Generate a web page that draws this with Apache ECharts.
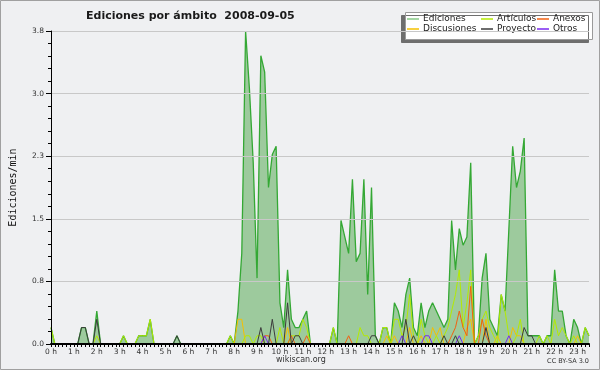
<!DOCTYPE html>
<html>
<head>
<meta charset="utf-8">
<script src="https://cdn.jsdelivr.net/npm/echarts@6/dist/echarts.min.js"></script>
<style>html,body{margin:0;padding:0;background:#eff0f2;}#c{width:600px;height:370px;}</style>
</head>
<body>
<div id="c"></div>
<script>
// 10-minute slots from 00:00 to 23:30
const times = [];
for (let h = 0; h < 24; h++) for (let m = 0; m < 60; m += 10) times.push(String(h).padStart(2,'0') + ':' + String(m).padStart(2,'0'));
times.length = 142;

const hourLabels = ['0 h','1 h','2 h','3 h','4 h','5 h','6 h','7 h','8 h','9 h','10 h','11 h','12 h','13 h','14 h','15 h','16 h','17 h','18 h','19 h','20 h','21 h','22 h','23 h'];

const ediciones = [
 0.2,0,0,0,0,0,0,0,0.2,0.2,
 0,0,0.4,0,0,0,0,0,0,0.1,
 0,0,0,0.1,0.1,0.1,0.3,0,0,0,
 0,0,0,0.1,0,0,0,0,0,0,
 0,0,0,0,0,0,0,0.1,0,0.4,
 1.1,3.8,3.1,2.2,0.8,3.5,3.3,1.9,2.3,2.4,
 0.5,0.2,0.9,0.3,0.2,0.2,0.3,0.4,0,0,
 0,0,0,0,0.2,0,1.5,1.3,1.1,2.0,
 1.0,1.1,2.0,0.6,1.9,0.1,0,0.2,0.2,0,
 0.5,0.4,0.2,0.6,0.8,0.2,0.1,0.5,0.2,0.4,
 0.5,0.4,0.3,0.2,0.3,1.5,0.9,1.4,1.2,1.3,
 2.2,0,0.1,0.8,1.1,0.3,0.2,0.1,0.6,0.4,
 1.4,2.4,1.9,2.1,2.5,0.1,0.1,0.1,0.1,0,
 0.1,0.1,0.9,0.4,0.4,0.1,0,0.3,0.2,0,
 0.2,0.1];

const articulos = [
 0.2,0,0,0,0,0,0,0,0,0,
 0,0,0.1,0,0,0,0,0,0,0.1,
 0,0,0,0.1,0.1,0.1,0.3,0,0,0,
 0,0,0,0,0,0,0,0,0,0,
 0,0,0,0,0,0,0,0.1,0,0,
 0,0.1,0.1,0,0.1,0.1,0,0,0,0,
 0.2,0,0,0.1,0.1,0.1,0.3,0.2,0,0,
 0,0,0,0,0.2,0,0,0,0,0,
 0,0.2,0.1,0.1,0,0,0,0.2,0.2,0,
 0.3,0.3,0.1,0.2,0.6,0.1,0,0.3,0.1,0,
 0,0.1,0,0.1,0.2,0.4,0.6,0.9,0.2,0.5,
 0.9,0,0.1,0.3,0.4,0.2,0.1,0,0.6,0.4,
 0.1,0,0.1,0.3,0,0,0,0,0.1,0,
 0.1,0,0.3,0.1,0.2,0.1,0,0.1,0,0,
 0.2,0.1];

const anexos = [
 0,0,0,0,0,0,0,0,0,0,
 0,0,0,0,0,0,0,0,0,0,
 0,0,0,0,0,0,0,0,0,0,
 0,0,0,0,0,0,0,0,0,0,
 0,0,0,0,0,0,0,0,0,0,
 0,0,0,0,0,0,0.1,0.1,0,0,
 0,0,0,0.1,0,0,0,0.1,0,0,
 0,0,0,0,0,0,0,0,0.1,0,
 0,0,0,0,0,0,0,0,0,0,
 0,0,0,0,0,0,0,0,0,0,
 0,0,0,0,0,0.1,0.2,0.4,0.2,0.1,
 0.7,0,0,0.3,0.1,0,0,0,0,0,
 0,0,0,0,0,0,0,0,0,0,
 0,0,0,0,0,0,0,0,0,0,
 0,0];

const discusiones = [
 0,0,0,0,0,0,0,0,0,0,
 0,0,0,0,0,0,0,0,0,0,
 0,0,0,0,0,0,0,0,0,0,
 0,0,0,0,0,0,0,0,0,0,
 0,0,0,0,0,0,0,0,0,0.3,
 0.3,0,0,0,0,0,0,0,0,0,
 0,0,0.2,0,0,0,0,0,0,0,
 0,0,0,0,0,0,0,0,0,0,
 0,0,0,0,0,0,0,0,0.1,0,
 0.1,0,0,0,0.2,0,0,0.1,0,0,
 0.2,0.1,0.2,0,0,0,0,0,0,0.2,
 0.3,0,0,0,0.3,0,0,0.1,0,0,
 0,0.2,0.1,0.1,0,0,0,0,0,0,
 0,0,0,0,0,0,0,0,0.1,0,
 0,0];

const proyecto = [
 0,0,0,0,0,0,0,0,0.2,0.2,
 0,0,0.3,0,0,0,0,0,0,0,
 0,0,0,0,0,0,0,0,0,0,
 0,0,0,0.1,0,0,0,0,0,0,
 0,0,0,0,0,0,0,0,0,0,
 0,0,0,0,0,0.2,0,0,0.3,0,
 0,0,0.5,0,0.1,0.1,0,0,0,0,
 0,0,0,0,0,0,0,0,0,0,
 0,0,0,0,0.1,0.1,0,0,0,0,
 0,0,0,0.3,0,0.1,0,0,0,0,
 0,0,0,0.1,0,0,0.1,0,0,0,
 0,0,0,0,0.2,0,0,0,0,0,
 0,0,0,0,0.2,0.1,0.1,0,0,0,
 0,0,0,0,0,0,0,0,0,0,
 0,0];

const otros = [
 0,0,0,0,0,0,0,0,0,0,
 0,0,0,0,0,0,0,0,0,0,
 0,0,0,0,0,0,0,0,0,0,
 0,0,0,0,0,0,0,0,0,0,
 0,0,0,0,0,0,0,0,0,0,
 0,0,0,0,0,0,0.1,0,0,0,
 0,0,0,0,0,0,0,0,0,0,
 0,0,0,0,0,0,0,0,0,0,
 0,0,0,0,0,0,0,0,0,0,
 0,0,0.1,0,0,0,0,0,0.1,0.1,
 0,0,0,0,0,0,0,0.1,0,0,
 0,0,0,0,0,0,0,0,0,0,
 0.1,0,0,0,0,0,0,0,0,0,
 0,0,0,0,0,0,0,0,0,0,
 0,0];

const chart = echarts.init(document.getElementById('c'), null, {renderer: 'canvas'});
const F = 'DejaVu Sans';
const legendCommon = {
  orient: 'vertical', top: 14, itemGap: 0, itemWidth: 12, itemHeight: 1.5, icon: 'rect', padding: 0,
  textStyle: {fontFamily: F, fontSize: 9, color: '#222', lineHeight: 10, padding: [0,0,0,-1]}
};
function lineSeries(name, data, color, z) {
  return {name, type: 'line', data, symbol: 'none', color, z,
    lineStyle: {color, width: 1}, emphasis: {disabled: true}};
}
const option = {
  backgroundColor: '#eff0f2',
  animation: false,
  title: {text: 'Ediciones por ámbito  2008-09-05', left: 81, top: 6,
    textStyle: {fontFamily: F, fontSize: 11, fontWeight: 'bold', color: '#1a1a1a'}},
  legend: [
    Object.assign({left: 407, data: [{name:'Ediciones', itemStyle:{color:'#86c886'}}, 'Discusiones']}, legendCommon),
    Object.assign({left: 481, data: ['Artículos', 'Proyecto']}, legendCommon),
    Object.assign({left: 537, data: ['Anexos', 'Otros']}, legendCommon)
  ],
  grid: {left: 46, right: 11, top: 31, bottom: 26},
  xAxis: {
    type: 'category', data: times, boundaryGap: false, z: 10,
    axisLine: {lineStyle: {color: '#000', width: 2}},
    axisTick: {interval: 0, length: 3, lineStyle: {color: '#000', width: 1}},
    axisLabel: {interval: 5, margin: 4, fontFamily: F, fontSize: 7.5, color: '#333',
      formatter: (v, i) => hourLabels[Math.round(i / 6)]},
    splitLine: {show: false}
  },
  yAxis: {
    type: 'value', min: 0, max: 3.8, interval: 0.76, z: 10,
    axisLine: {show: true, lineStyle: {color: '#000', width: 1}},
    axisTick: {show: true, length: 5, lineStyle: {color: '#000'}},
    minorTick: {show: true, splitNumber: 5, length: 3, lineStyle: {color: '#000'}},
    splitLine: {show: true, lineStyle: {color: '#c8c8c8', width: 1}},
    axisLabel: {margin: 7, fontFamily: F, fontSize: 7.5, color: '#333',
      formatter: v => v.toFixed(1)},
    name: 'Ediciones/min', nameLocation: 'middle', nameGap: 33,
    nameTextStyle: {fontFamily: 'DejaVu Sans Mono', fontSize: 10, color: '#111'}
  },
  series: [
    Object.assign(lineSeries('Ediciones', ediciones, '#34a834', 2),
      {areaStyle: {color: 'rgb(76,164,72)', opacity: 0.5}, lineStyle: {color: '#34a834', width: 1.3}}),
    lineSeries('Discusiones', discusiones, '#f5c000', 3),
    lineSeries('Artículos', articulos, '#b4ea00', 4),
    lineSeries('Anexos', anexos, '#f26010', 5),
    lineSeries('Otros', otros, '#7a28f0', 6),
    lineSeries('Proyecto', proyecto, '#3c3c3c', 7)
  ],
  graphic: [
    {type: 'rect', z: -1, shape: {x: 0.5, y: 0.5, width: 599, height: 369},
      style: {fill: null, stroke: '#a0a0a0', lineWidth: 1}},
    {type: 'rect', z: 0, shape: {x: 405.5, y: 12.5, width: 187, height: 27},
      style: {fill: '#ffffff', stroke: '#9a9a9a', lineWidth: 1, shadowColor: '#6e6e6e', shadowBlur: 0, shadowOffsetX: -4, shadowOffsetY: 3}},
    {type: 'text', left: 276, top: 356, style: {text: 'wikiscan.org', font: '8px "DejaVu Sans"', fill: '#333'}},
    {type: 'text', right: 11, top: 358, style: {text: 'CC BY-SA 3.0', font: '6.5px "DejaVu Sans"', fill: '#333'}}
  ]
};
chart.setOption(option);
</script>
</body>
</html>
